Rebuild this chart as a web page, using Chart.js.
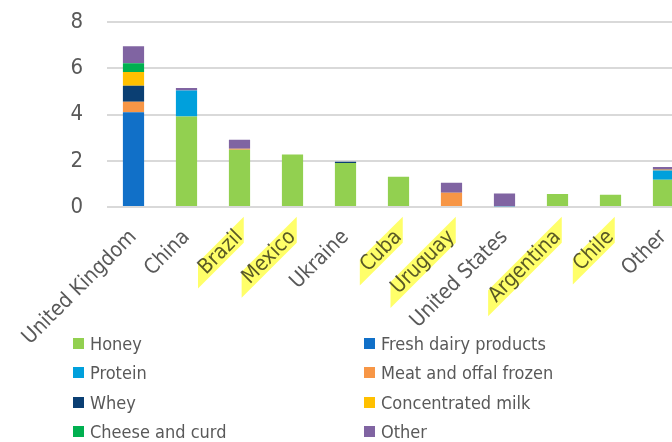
<!DOCTYPE html>
<html>
<head>
<meta charset="utf-8">
<script src="https://cdn.jsdelivr.net/npm/chart.js@4"></script>
<style>
  body { margin: 0; overflow: hidden; background: #fff; width: 672px; height: 442px; }
  #wrap { position: absolute; left: 0; top: -15px; width: 700px; height: 457px; }
  .legend { position: absolute; font-family: 'DejaVu Sans Condensed', 'DejaVu Sans', sans-serif; font-size: 18px; color: #595959; }
  .item { position: absolute; white-space: nowrap; height: 24px; line-height: 24px; }
  .item span { position: absolute; left: 0; top: 6px; width: 11px; height: 11px; }
  .item b { position: absolute; left: 17px; top: 0; font-weight: normal; }
</style>
</head>
<body>
<div id="wrap"><canvas id="myChart" width="700" height="457"></canvas></div>
<div class="legend" id="legend"></div>
<script>
// Data -------------------------------------------
const countries = ['United Kingdom', 'China', 'Brazil', 'Mexico', 'Ukraine', 'Cuba',
  'Uruguay', 'United States', 'Argentina', 'Chile', 'Other'];
const highlighted = ['Brazil', 'Mexico', 'Cuba', 'Uruguay', 'Argentina', 'Chile'];

const honey        = [0,    3.92, 2.48, 2.27, 1.90, 1.31, 0,    0,    0.56, 0.53, 1.18];
const freshDairy   = [4.10, 0,    0,    0,    0,    0,    0,    0,    0,    0,    0];
const protein      = [0,    1.12, 0,    0,    0,    0,    0,    0.03, 0,    0,    0.40];
const meatOffal    = [0.46, 0,    0.04, 0,    0,    0,    0.62, 0,    0,    0,    0.04];
const whey         = [0.69, 0,    0,    0,    0.06, 0,    0,    0,    0,    0,    0.02];
const concMilk     = [0.59, 0,    0,    0,    0,    0,    0,    0,    0,    0,    0];
const cheeseCurd   = [0.38, 0,    0,    0,    0,    0,    0,    0,    0,    0,    0];
const otherGoods   = [0.74, 0.11, 0.39, 0,    0,    0,    0.43, 0.55, 0,    0,    0.09];

const yTicks = [0, 2, 4, 6, 8];

// Series (legend order = Excel row order) -----------
const series = [
  {label: 'Honey', data: honey, color: '#92d050'},
  {label: 'Fresh dairy products', data: freshDairy, color: '#1170c8'},
  {label: 'Protein', data: protein, color: '#00a0dc'},
  {label: 'Meat and offal frozen', data: meatOffal, color: '#f79646'},
  {label: 'Whey', data: whey, color: '#0b3f73'},
  {label: 'Concentrated milk', data: concMilk, color: '#ffc000'},
  {label: 'Cheese and curd', data: cheeseCurd, color: '#00b050'},
  {label: 'Other', data: otherGoods, color: '#8064a2'}
];

const FONT = "'DejaVu Sans Condensed', 'DejaVu Sans', sans-serif";
const GREY = '#595959';

// yellow marker on some country labels
const highlighter = {
  id: 'highlighter',
  afterDraw(chart) {
    const x = chart.scales.x;
    const items = x.getLabelItems();
    const ctx = chart.ctx;
    ctx.save();
    ctx.globalCompositeOperation = 'multiply';
    ctx.fillStyle = 'rgb(255,255,105)';
    items.forEach(it => {
      if (!highlighted.includes(it.label)) return;
      ctx.font = it.font.string;
      const w = ctx.measureText(it.label).width;
      const [tx, ty] = it.options.translation;
      const r = it.options.rotation;
      const v = it.textOffset;
      const pt = (u) => [tx + u * Math.cos(r) - v * Math.sin(r), ty + u * Math.sin(r) + v * Math.cos(r)];
      const a = pt(-w - 6), b = pt(6);
      const h = 13;
      ctx.beginPath();
      ctx.moveTo(a[0], a[1] - h);
      ctx.lineTo(b[0], b[1] - h);
      ctx.lineTo(b[0], b[1] + h);
      ctx.lineTo(a[0], a[1] + h);
      ctx.closePath();
      ctx.fill();
    });
    ctx.restore();
  }
};

const ctx = document.getElementById('myChart').getContext('2d');
const myChart = new Chart(ctx, {
  type: 'bar',
  data: {
    labels: countries,
    datasets: series.map(s => ({
      label: s.label,
      data: s.data,
      backgroundColor: s.color,
      borderWidth: 0,
      barPercentage: 0.4,
      categoryPercentage: 1
    }))
  },
  options: {
    responsive: false,
    animation: false,
    layout: {padding: {top: 7, right: 10, left: 0, bottom: 0}},
    plugins: {legend: {display: false}, tooltip: {enabled: false}},
    scales: {
      x: {
        stacked: true,
        grid: {display: false},
        border: {display: false},
        ticks: {
          color: GREY, font: {family: FONT, size: 21},
          minRotation: 45, maxRotation: 45, autoSkip: false, padding: 10
        },
        afterFit: (s) => { s.height = 235; }
      },
      y: {
        stacked: true,
        min: 0, max: 8,
        afterBuildTicks: (s) => { s.ticks = yTicks.map(v => ({value: v})); },
        grid: {color: '#d9d9d9', lineWidth: 2, drawTicks: false},
        border: {display: false},
        ticks: {color: GREY, font: {family: FONT, size: 22}, padding: 24},
        afterFit: (s) => { s.width = 107; }
      }
    }
  },
  plugins: [highlighter]
});

// Legend (two columns, like the original) ------------
const legend = document.getElementById('legend');
const rowsY = [344, 373, 403, 432];
series.forEach((s, i) => {
  const col = i % 2, row = Math.floor(i / 2);
  const el = document.createElement('div');
  el.className = 'item';
  el.style.left = (col ? 364 : 73) + 'px';
  el.style.top = (rowsY[row] - 12) + 'px';
  el.innerHTML = '<span style="background:' + s.color + '"></span><b>' + s.label + '</b>';
  legend.appendChild(el);
});
</script>
</body>
</html>
